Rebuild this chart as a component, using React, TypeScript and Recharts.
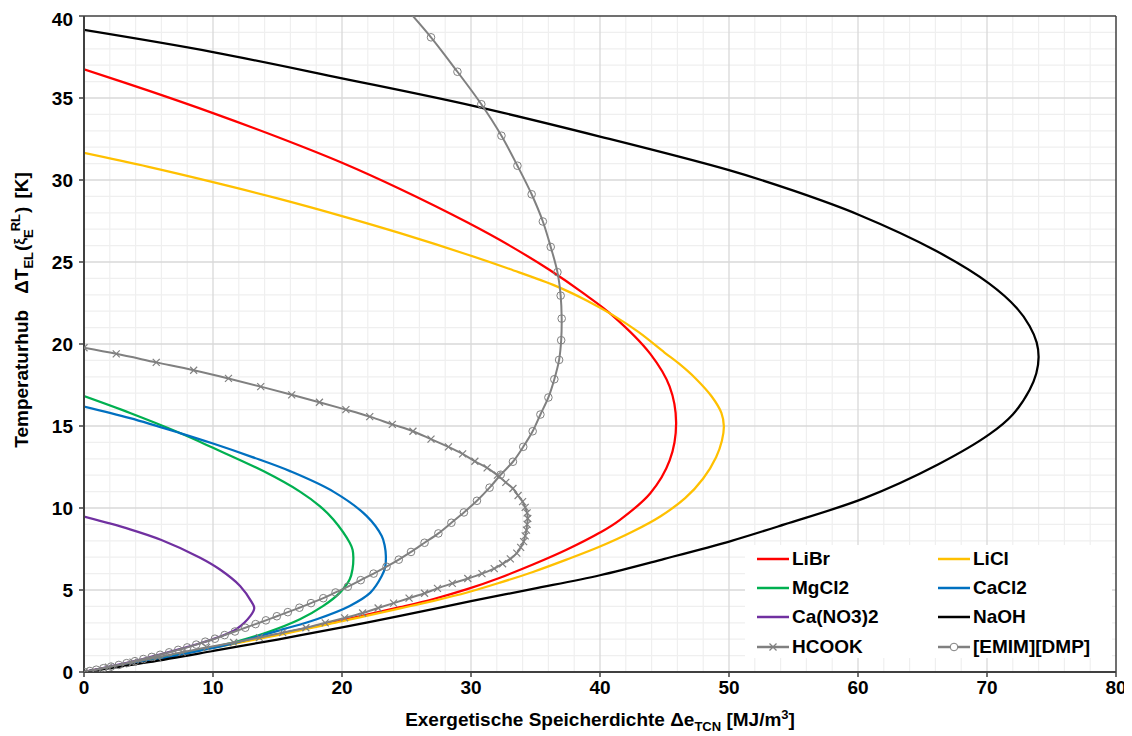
import React from "react";
import { LineChart, Line, XAxis, YAxis, ReferenceLine, Label } from "recharts";

const FONT = "'Liberation Sans', Arial, sans-serif";

// axis ticks
const xTicks = [0, 10, 20, 30, 40, 50, 60, 70, 80];
const yTicks = [0, 5, 10, 15, 20, 25, 30, 35, 40];

// curves: [exergetic storage density, temperature lift], in drawing order
const libr = [
  [0, 36.75], [5, 35.45], [10, 34.08], [15, 32.62], [20, 31.05], [24.5, 29.45], [29.7, 27.42],
  [33, 26.0], [36.1, 24.51], [38.7, 23.1], [41.0, 21.72], [43.9, 19.4], [45.4, 17.4], [45.9, 15.2],
  [45.4, 12.9], [43.9, 10.9], [41.5, 9.25], [40, 8.5], [37.4, 7.45], [34.8, 6.55], [32.25, 5.75],
  [29.7, 5.05], [27.1, 4.45], [24.5, 3.95], [20, 3.15], [15, 2.3], [10, 1.5], [5, 0.72], [0, 0],
];
const licl = [
  [0, 31.65], [5, 30.8], [10, 29.87], [15, 28.88], [20, 27.8], [24.5, 26.76], [29.7, 25.46],
  [33, 24.57], [36.6, 23.53], [39, 22.64], [41.0, 21.76], [43, 20.72], [45, 19.48], [46.13, 18.8],
  [47.41, 17.9], [48.66, 16.8], [49.41, 15.8], [49.6, 15.0], [49.45, 14.1], [49.0, 13.1], [48.0, 11.8],
  [46.6, 10.6], [44.7, 9.5], [42.5, 8.55], [40, 7.65], [37.4, 6.85], [34.8, 6.1], [32.25, 5.45],
  [29.7, 4.85], [27.1, 4.34], [24.5, 3.88], [20, 3.1], [15, 2.25], [10, 1.48], [5, 0.7], [0, 0],
];
const mgcl2 = [
  [0, 16.82], [3.57, 15.79], [7.44, 14.57], [10, 13.67], [13.9, 12.25], [16.74, 11.0], [18.3, 10.1],
  [19.33, 9.3], [20.6, 7.88], [20.82, 7.45], [20.88, 6.97], [20.82, 6.3], [20.6, 5.65], [19.84, 4.84],
  [18.55, 4.03], [16.74, 3.22], [14.16, 2.41], [11.57, 1.8], [9, 1.35], [6, 0.85], [3, 0.4], [0, 0],
];
const cacl2 = [
  [0, 16.19], [3.57, 15.48], [7.44, 14.57], [10, 13.93], [13, 13.12], [15.97, 12.25], [19.33, 11.0],
  [21.9, 9.52], [23.08, 8.29], [23.31, 7.7], [23.4, 7.07], [23.35, 6.4], [23.08, 5.85], [22.2, 4.84],
  [20.6, 4.03], [18.04, 3.22], [15.45, 2.61], [11.57, 1.75], [9, 1.3], [6, 0.82], [3, 0.4], [0, 0],
];
const cano32 = [
  [0, 9.47], [3.57, 8.7], [6, 8.05], [9, 6.97], [10.54, 6.25], [12.1, 5.25], [13.0, 4.26],
  [13.2, 3.9], [12.9, 3.42], [11.8, 2.61], [10.5, 2.15], [9, 1.75], [7, 1.3], [5, 0.88],
  [2.5, 0.42], [0, 0],
];
const naoh = [
  [0, 39.15], [10, 37.8], [20, 36.2], [30, 34.55], [40, 32.65], [50, 30.6], [55, 29.35],
  [60, 27.9], [66, 25.7], [70.15, 23.7], [72.3, 22.2], [73.3, 21.1], [73.85, 20.1], [74, 19.2],
  [73.82, 18.2], [73.3, 17.2], [72.0, 15.7], [70.2, 14.5], [66.2, 12.65], [60.5, 10.6], [54.3, 9.0],
  [50.2, 8.0], [45, 6.9], [40, 5.9], [34.8, 5.07], [30, 4.32], [24.5, 3.42], [20, 2.72], [15, 1.98],
  [10, 1.28], [5, 0.6], [0, 0],
];
const hcook = [
  [0, 19.77], [2.5, 19.4], [5.6, 18.88], [8.5, 18.4], [11.2, 17.9], [13.7, 17.4], [16.1, 16.9],
  [18.25, 16.45], [20.3, 16.0], [22.15, 15.57], [23.9, 15.1], [25.5, 14.68], [26.9, 14.2],
  [28.25, 13.73], [29.35, 13.3], [30.3, 12.85], [31.25, 12.45], [32.05, 12.0], [32.7, 11.56],
  [33.25, 11.19], [33.65, 10.76], [34.0, 10.39], [34.2, 10.04], [34.35, 9.7], [34.4, 9.36],
  [34.35, 9.0], [34.3, 8.65], [34.2, 8.3], [34.08, 7.95], [33.85, 7.6], [33.55, 7.25],
  [33.05, 6.9], [32.45, 6.6], [31.8, 6.3], [30.85, 6.0], [29.75, 5.7], [28.55, 5.4], [27.4, 5.1],
  [26.4, 4.8], [25.2, 4.5], [24.0, 4.2], [22.8, 3.9], [21.6, 3.6], [20.2, 3.3], [18.7, 3.0],
  [17.2, 2.7], [15.4, 2.4], [13.6, 2.1], [11.6, 1.8], [9.5, 1.5], [7.6, 1.2], [5.7, 0.9],
  [3.8, 0.6], [1.9, 0.3], [0, 0],
];
const emim = [
  [24.6, 40.8], [26.9, 38.7], [28.95, 36.6], [30.8, 34.62], [32.36, 32.7], [33.6, 30.87],
  [34.7, 29.13], [35.57, 27.47], [36.18, 25.92], [36.7, 24.38], [36.95, 22.95], [37.03, 21.55],
  [36.99, 20.23], [36.83, 19.03], [36.46, 17.85], [36.0, 16.74], [35.38, 15.7], [34.78, 14.68],
  [34.05, 13.73], [33.25, 12.82], [32.3, 12.03], [31.44, 11.24], [30.46, 10.44], [29.45, 9.73],
  [28.48, 9.1], [27.47, 8.45], [26.4, 7.88], [25.35, 7.32], [24.4, 6.85], [23.45, 6.42],
  [22.45, 6.0], [21.45, 5.6], [20.45, 5.2], [19.5, 4.85], [18.55, 4.5], [17.6, 4.2], [16.7, 3.92],
  [15.8, 3.65], [14.95, 3.4], [14.1, 3.15], [13.3, 2.92], [12.5, 2.7], [11.7, 2.47], [10.9, 2.25],
  [10.15, 2.03], [9.4, 1.85], [8.7, 1.67], [8.0, 1.5], [7.3, 1.35], [6.6, 1.2], [5.9, 1.05],
  [5.25, 0.92], [4.6, 0.79], [3.95, 0.66], [3.3, 0.54], [2.7, 0.43], [2.1, 0.33], [1.5, 0.23],
  [0.95, 0.14], [0.45, 0.06], [0, 0],
];

const GRAY = "#808080";

const series = [
  { name: "LiBr", color: "#ff0000", pts: libr, marker: "none" },
  { name: "LiCl", color: "#ffc000", pts: licl, marker: "none" },
  { name: "MgCl2", color: "#00b050", pts: mgcl2, marker: "none" },
  { name: "CaCl2", color: "#0070c0", pts: cacl2, marker: "none" },
  { name: "Ca(NO3)2", color: "#7030a0", pts: cano32, marker: "none" },
  { name: "NaOH", color: "#000000", pts: naoh, marker: "none" },
  { name: "HCOOK", color: GRAY, pts: hcook, marker: "x" },
  { name: "[EMIM][DMP]", color: GRAY, pts: emim, marker: "o" },
];

// minor / major grid positions
const xMinor: number[] = [];
for (let v = 2; v < 80; v += 2) if (v % 10 !== 0) xMinor.push(v);
const yMinor: number[] = [];
for (let v = 1; v < 40; v++) if (v % 5 !== 0) yMinor.push(v);
const xMajor = xTicks.slice(1, -1);
const yMajor = yTicks.slice(1, -1);

// centripetal Catmull-Rom, works on point order (curves fold back in x)
const smoothCurve = (ctx: any) => {
  let pts: number[][] = [];
  const draw = () => {
    const n = pts.length;
    if (!n) return;
    ctx.moveTo(pts[0][0], pts[0][1]);
    for (let i = 0; i < n - 1; i++) {
      const p0 = pts[i > 0 ? i - 1 : i];
      const p1 = pts[i];
      const p2 = pts[i + 1];
      const p3 = pts[i + 2 < n ? i + 2 : i + 1];
      const d = (a: number[], b: number[]) => Math.hypot(b[0] - a[0], b[1] - a[1]);
      const l01 = d(p0, p1), l12 = d(p1, p2), l23 = d(p2, p3);
      const a01 = Math.sqrt(l01), a12 = Math.sqrt(l12), a23 = Math.sqrt(l23);
      let c1 = [p1[0], p1[1]];
      let c2 = [p2[0], p2[1]];
      if (a01 > 1e-6) {
        const a = 2 * l01 + 3 * a01 * a12 + l12;
        const m = 3 * a01 * (a01 + a12);
        c1 = [(p1[0] * a - p0[0] * l12 + p2[0] * l01) / m, (p1[1] * a - p0[1] * l12 + p2[1] * l01) / m];
      }
      if (a23 > 1e-6) {
        const b = 2 * l23 + 3 * a23 * a12 + l12;
        const m = 3 * a23 * (a23 + a12);
        c2 = [(p2[0] * b + p1[0] * l23 - p3[0] * l12) / m, (p2[1] * b + p1[1] * l23 - p3[1] * l12) / m];
      }
      ctx.bezierCurveTo(c1[0], c1[1], c2[0], c2[1], p2[0], p2[1]);
    }
  };
  return {
    areaStart() {},
    areaEnd() {},
    lineStart() {
      pts = [];
    },
    lineEnd() {
      draw();
    },
    point(x: number, y: number) {
      pts.push([+x, +y]);
    },
  };
};

const XDot = (p: any) => {
  const { cx, cy, index } = p;
  if (cx == null || cy == null) return <g key={`xd-${index}`} />;
  const s = 3.5;
  return (
    <g key={`xd-${index}`}>
      <line x1={cx - s} y1={cy - s} x2={cx + s} y2={cy + s} stroke={GRAY} strokeWidth={1.2} />
      <line x1={cx - s} y1={cy + s} x2={cx + s} y2={cy - s} stroke={GRAY} strokeWidth={1.2} />
    </g>
  );
};

const XTitle = (props: any) => {
  const { viewBox } = props;
  const cx = viewBox.x + viewBox.width / 2;
  const y = viewBox.y + viewBox.height + 14;
  return (
    <text x={cx} y={y} textAnchor="middle" fontFamily={FONT} fontWeight="bold" fontSize={19} fill="#000">
      <tspan>Exergetische Speicherdichte Δe</tspan>
      <tspan fontSize={13} dy={5}>TCN</tspan>
      <tspan dy={-5}> [MJ/m</tspan>
      <tspan fontSize={13} dy={-7}>3</tspan>
      <tspan dy={7}>]</tspan>
    </text>
  );
};

const YTitle = (props: any) => {
  const { viewBox } = props;
  const x = viewBox.x + 4;
  const y = viewBox.y + viewBox.height / 2 - 34;
  return (
    <text
      x={x}
      y={y}
      transform={`rotate(-90, ${x}, ${y})`}
      textAnchor="middle"
      fontFamily={FONT}
      fontWeight="bold"
      fontSize={19}
      fill="#000"
    >
      <tspan>Temperaturhub</tspan>
      <tspan dx={16}>ΔT</tspan>
      <tspan fontSize={13} dy={5}>EL</tspan>
      <tspan dy={-5} dx={1}>(</tspan>
      <tspan fontSize={15} dy={-3}>ξ</tspan>
      <tspan fontSize={13} dy={8}>E</tspan>
      <tspan fontSize={13} dy={-13} dx={-2}>RL</tspan>
      <tspan dy={8} dx={1}>)</tspan>
      <tspan dx={8}>[K]</tspan>
    </text>
  );
};

const LegendSwatch = ({ color, marker }: { color: string; marker: string }) => (
  <svg width={32} height={10} style={{ display: "block" }}>
    <line x1={0} y1={5} x2={32} y2={5} stroke={color} strokeWidth={2.5} />
    {marker === "x" && (
      <g>
        <line x1={12.5} y1={1.5} x2={19.5} y2={8.5} stroke={GRAY} strokeWidth={1.2} />
        <line x1={12.5} y1={8.5} x2={19.5} y2={1.5} stroke={GRAY} strokeWidth={1.2} />
      </g>
    )}
    {marker === "o" && <circle cx={16} cy={5} r={3.8} fill="#fff" stroke={GRAY} strokeWidth={1} />}
  </svg>
);

export default function App() {
  return (
    <div style={{ position: "relative", width: 1124, height: 728, background: "#fff" }}>
      <LineChart
        width={1124}
        height={728}
        margin={{ top: 8, right: 16, bottom: 24, left: 16 }}
        style={{ fontFamily: FONT }}
      >
        {xMinor.map((v) => (
          <ReferenceLine key={`xm${v}`} x={v} stroke="#efefef" strokeWidth={1.2} />
        ))}
        {yMinor.map((v) => (
          <ReferenceLine key={`ym${v}`} y={v} stroke="#efefef" strokeWidth={1.2} />
        ))}
        {xMajor.map((v) => (
          <ReferenceLine key={`xM${v}`} x={v} stroke="#d9d9d9" strokeWidth={1.3} />
        ))}
        {yMajor.map((v) => (
          <ReferenceLine key={`yM${v}`} y={v} stroke="#d9d9d9" strokeWidth={1.3} />
        ))}
        <ReferenceLine x={80} stroke="#404040" strokeWidth={1.5} />
        <ReferenceLine y={40} stroke="#404040" strokeWidth={1.5} />
        <XAxis
          type="number"
          dataKey="x"
          domain={[0, 80]}
          ticks={xTicks}
          allowDataOverflow
          height={40}
          axisLine={{ stroke: "#404040", strokeWidth: 2 }}
          tickLine={{ stroke: "#404040", strokeWidth: 1.5 }}
          tickSize={5}
          tickMargin={4}
          tick={{ fill: "#000", fontSize: 19, fontWeight: "bold", fontFamily: FONT }}
        >
          <Label content={XTitle} />
        </XAxis>
        <YAxis
          type="number"
          dataKey="y"
          domain={[0, 40]}
          ticks={yTicks}
          allowDataOverflow
          width={60}
          axisLine={{ stroke: "#404040", strokeWidth: 2 }}
          tickLine={{ stroke: "#404040", strokeWidth: 1.5 }}
          tickSize={5}
          tickMargin={6}
          tick={{ fill: "#000", fontSize: 19, fontWeight: "bold", fontFamily: FONT }}
        >
          <Label content={YTitle} />
        </YAxis>
        {series.map((s) => (
          <Line
            key={s.name}
            name={s.name}
            data={s.pts.map(([x, y]) => ({ x, y }))}
            dataKey="y"
            type={smoothCurve as any}
            stroke={s.color}
            strokeWidth={s.marker === "none" ? 2.25 : 2}
            dot={
              s.marker === "x"
                ? XDot
                : s.marker === "o"
                ? { r: 3.8, fill: "none", stroke: GRAY, strokeWidth: 1 }
                : false
            }
            activeDot={false}
            isAnimationActive={false}
          />
        ))}
      </LineChart>
      <div
        style={{
          position: "absolute",
          left: 737,
          top: 537,
          width: 367,
          height: 113,
          background: "#fff",
          fontFamily: FONT,
          fontWeight: "bold",
          fontSize: 19,
          color: "#000",
        }}
      >
        {series.map((s, i) => {
          const col = i % 2;
          const row = Math.floor(i / 2);
          return (
            <div
              key={s.name}
              style={{
                position: "absolute",
                left: col === 0 ? 12 : 193,
                top: 14 + row * 29.2 - 11,
                height: 22,
                display: "flex",
                alignItems: "center",
                whiteSpace: "nowrap",
              }}
            >
              <LegendSwatch color={s.color} marker={s.marker} />
              <span style={{ marginLeft: 3, lineHeight: "22px" }}>{s.name}</span>
            </div>
          );
        })}
      </div>
    </div>
  );
}
